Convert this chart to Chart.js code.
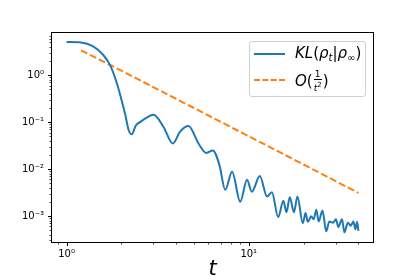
<!DOCTYPE html>
<html>
<head>
<meta charset="utf-8">
<script src="https://cdn.jsdelivr.net/npm/chart.js@4"></script>
<style>
  body { margin: 0; background: #fff; }
  #wrap { position: relative; width: 415px; height: 277px; }
  #legend {
    position: absolute; left: 249px; top: 41px; width: 115px; height: 54px;
    border: 1px solid #d0d0d0; border-radius: 3px; background: rgba(255,255,255,0.8);
    font-family: 'DejaVu Sans', sans-serif; font-size: 15px; color: #000;
  }
  .row { position: absolute; left: 0; height: 20px; white-space: nowrap; }
  .sample { position: absolute; left: 4px; width: 31px; height: 0; }
  .lab { position: absolute; left: 45px; line-height: 20px; }
  .frac { display: inline-block; vertical-align: middle; text-align: center; font-size: 9px; line-height: 10px; margin: 0 1px; }
  .frac span { display: block; }
  .frac .num { border-bottom: 1px solid #000; padding: 0 1px; }
  sub { font-size: 10px; vertical-align: -3px; }
</style>
</head>
<body>
<div id="wrap">
  <canvas id="chart" width="415" height="277"></canvas>
  <div id="legend">
    <div class="row" style="top:1px">
      <div class="sample" style="top:10px;border-top:2px solid #1f77b4"></div>
      <div class="lab"><i>KL</i>(<i>ρ</i><sub><i>t</i></sub>|<i>ρ</i><sub>∞</sub>)</div>
    </div>
    <div class="row" style="top:27px">
      <div class="sample" style="top:10px;border-top:2px dashed #ff7f0e"></div>
      <div class="lab"><i>O</i>(<span class="frac"><span class="num">1</span><span><i>t</i><sup style="font-size:7px">2</sup></span></span>)</div>
    </div>
  </div>
</div>
<script>
// KL divergence curve
const klT = [1.0, 1.2, 1.4, 1.59, 1.73, 1.85, 1.97, 2.1, 2.19, 2.28, 2.4, 2.53, 2.75, 3.0, 3.4, 3.83,
  4.2, 4.67, 5.3, 5.85, 6.35, 6.9, 7.43, 8.1, 8.98, 9.78, 10.4, 11.5, 12.6, 13.4, 14.5, 15.5,
  16.1, 16.8, 17.7, 18.5, 19.8, 20.5, 21.1, 22.0, 22.7, 23.5, 24.2, 25.4, 26.6, 27.7, 29.0,
  30.1, 31.0, 32.5, 33.5, 35.0, 36.3, 37.5, 38.5, 39.3, 40.0];
const klVal = [5.1, 5.0, 4.1, 2.7, 1.66, 0.86, 0.38, 0.143, 0.068, 0.055, 0.085, 0.10, 0.125, 0.143, 0.08, 0.035,
  0.063, 0.083, 0.035, 0.022, 0.025, 0.0123, 0.0036, 0.0088, 0.002, 0.0059, 0.0033, 0.0071, 0.0026, 0.0032, 0.00095, 0.0021,
  0.0012, 0.0025, 0.0012, 0.0026, 0.0007, 0.00115, 0.00075, 0.00098, 0.00085, 0.00135, 0.00076, 0.0013, 0.00047, 0.00076, 0.00072,
  0.00085, 0.00058, 0.00085, 0.00045, 0.00072, 0.00062, 0.00076, 0.00052, 0.00075, 0.00048];

// reference rate O(1/t^2)
const refT = [1.2, 2, 5, 10, 20, 40];
const refVal = [3.4, 1.25, 0.2, 0.05, 0.0125, 0.0031];

// axis ticks
const xMajor = [1, 10];
const xMinor = [0.9, 2, 3, 4, 5, 6, 7, 8, 9, 20, 30, 40];
const yMajor = [1e-3, 1e-2, 1e-1, 1];
const yMinor = [3e-4, 4e-4, 5e-4, 6e-4, 7e-4, 8e-4, 9e-4,
  2e-3, 3e-3, 4e-3, 5e-3, 6e-3, 7e-3, 8e-3, 9e-3,
  2e-2, 3e-2, 4e-2, 5e-2, 6e-2, 7e-2, 8e-2, 9e-2,
  0.2, 0.3, 0.4, 0.5, 0.6, 0.7, 0.8, 0.9, 2, 3, 4, 5, 6, 7];

const sup = { '-': '⁻', '0': '⁰', '1': '¹', '2': '²', '3': '³' };
function powLabel(v) {
  const e = Math.round(Math.log10(v));
  return '10' + String(e).split('').map(c => sup[c]).join('');
}

function buildTicks(major, minor) {
  return function (scale) {
    const all = major.map(v => ({ value: v, major: true }))
      .concat(minor.map(v => ({ value: v, major: false })))
      .filter(t => t.value >= scale.min && t.value <= scale.max)
      .sort((a, b) => a.value - b.value);
    scale.ticks = all;
  };
}

// frame + outward tick marks, matplotlib style
const frameTicks = {
  id: 'frameTicks',
  afterDraw(chart) {
    const { ctx, chartArea: a, scales } = chart;
    ctx.save();
    ctx.strokeStyle = '#000';
    ctx.lineWidth = 1;
    ctx.strokeRect(a.left - 0.5, a.top - 0.5, a.right - a.left + 1, a.bottom - a.top + 1);
    scales.x.ticks.forEach(t => {
      const px = Math.round(scales.x.getPixelForValue(t.value)) + 0.5;
      ctx.lineWidth = t.major ? 1 : 0.7;
      ctx.beginPath();
      ctx.moveTo(px, a.bottom);
      ctx.lineTo(px, a.bottom + (t.major ? 4 : 2.5));
      ctx.stroke();
    });
    scales.y.ticks.forEach(t => {
      const py = Math.round(scales.y.getPixelForValue(t.value)) + 0.5;
      ctx.lineWidth = t.major ? 1 : 0.7;
      ctx.beginPath();
      ctx.moveTo(a.left, py);
      ctx.lineTo(a.left - (t.major ? 4 : 2.5), py);
      ctx.stroke();
    });
    ctx.restore();
  }
};

Chart.defaults.font.family = "'DejaVu Sans', sans-serif";
Chart.defaults.color = '#000';

new Chart(document.getElementById('chart'), {
  type: 'line',
  data: {
    datasets: [
      {
        label: 'KL',
        data: klT.map((t, i) => ({ x: t, y: klVal[i] })),
        borderColor: '#1f77b4',
        borderWidth: 2,
        pointRadius: 0,
        cubicInterpolationMode: 'monotone',
        fill: false
      },
      {
        label: 'O(1/t^2)',
        data: refT.map((t, i) => ({ x: t, y: refVal[i] })),
        borderColor: '#ff7f0e',
        borderWidth: 2,
        borderDash: [7, 3],
        pointRadius: 0,
        fill: false
      }
    ]
  },
  options: {
    responsive: false,
    animation: false,
    layout: { padding: { top: 33, right: 42, left: 0, bottom: 0 } },
    plugins: { legend: { display: false }, tooltip: { enabled: false } },
    scales: {
      x: {
        type: 'logarithmic',
        min: Math.pow(10, -0.08),
        max: Math.pow(10, 1.682),
        afterBuildTicks: buildTicks(xMajor, xMinor),
        afterFit: s => { s.height = 35; },
        grid: { display: false, drawTicks: false },
        border: { display: false },
        ticks: {
          autoSkip: false, maxRotation: 0, padding: 6,
          font: { size: 10 },
          callback: (v, i, ticks) => ticks[i].major ? powLabel(v) : ''
        },
        title: {
          display: true, text: 't',
          font: { size: 21, style: 'italic', lineHeight: 0.7 },
          padding: { top: 0, bottom: 0 }
        }
      },
      y: {
        type: 'logarithmic',
        min: Math.pow(10, -3.555),
        max: Math.pow(10, 0.9),
        afterBuildTicks: buildTicks(yMajor, yMinor),
        afterFit: s => { s.width = 52; },
        grid: { display: false, drawTicks: false },
        border: { display: false },
        ticks: {
          autoSkip: false, padding: 8,
          font: { size: 10 },
          callback: (v, i, ticks) => ticks[i].major ? powLabel(v) : ''
        }
      }
    }
  },
  plugins: [frameTicks]
});
</script>
</body>
</html>
